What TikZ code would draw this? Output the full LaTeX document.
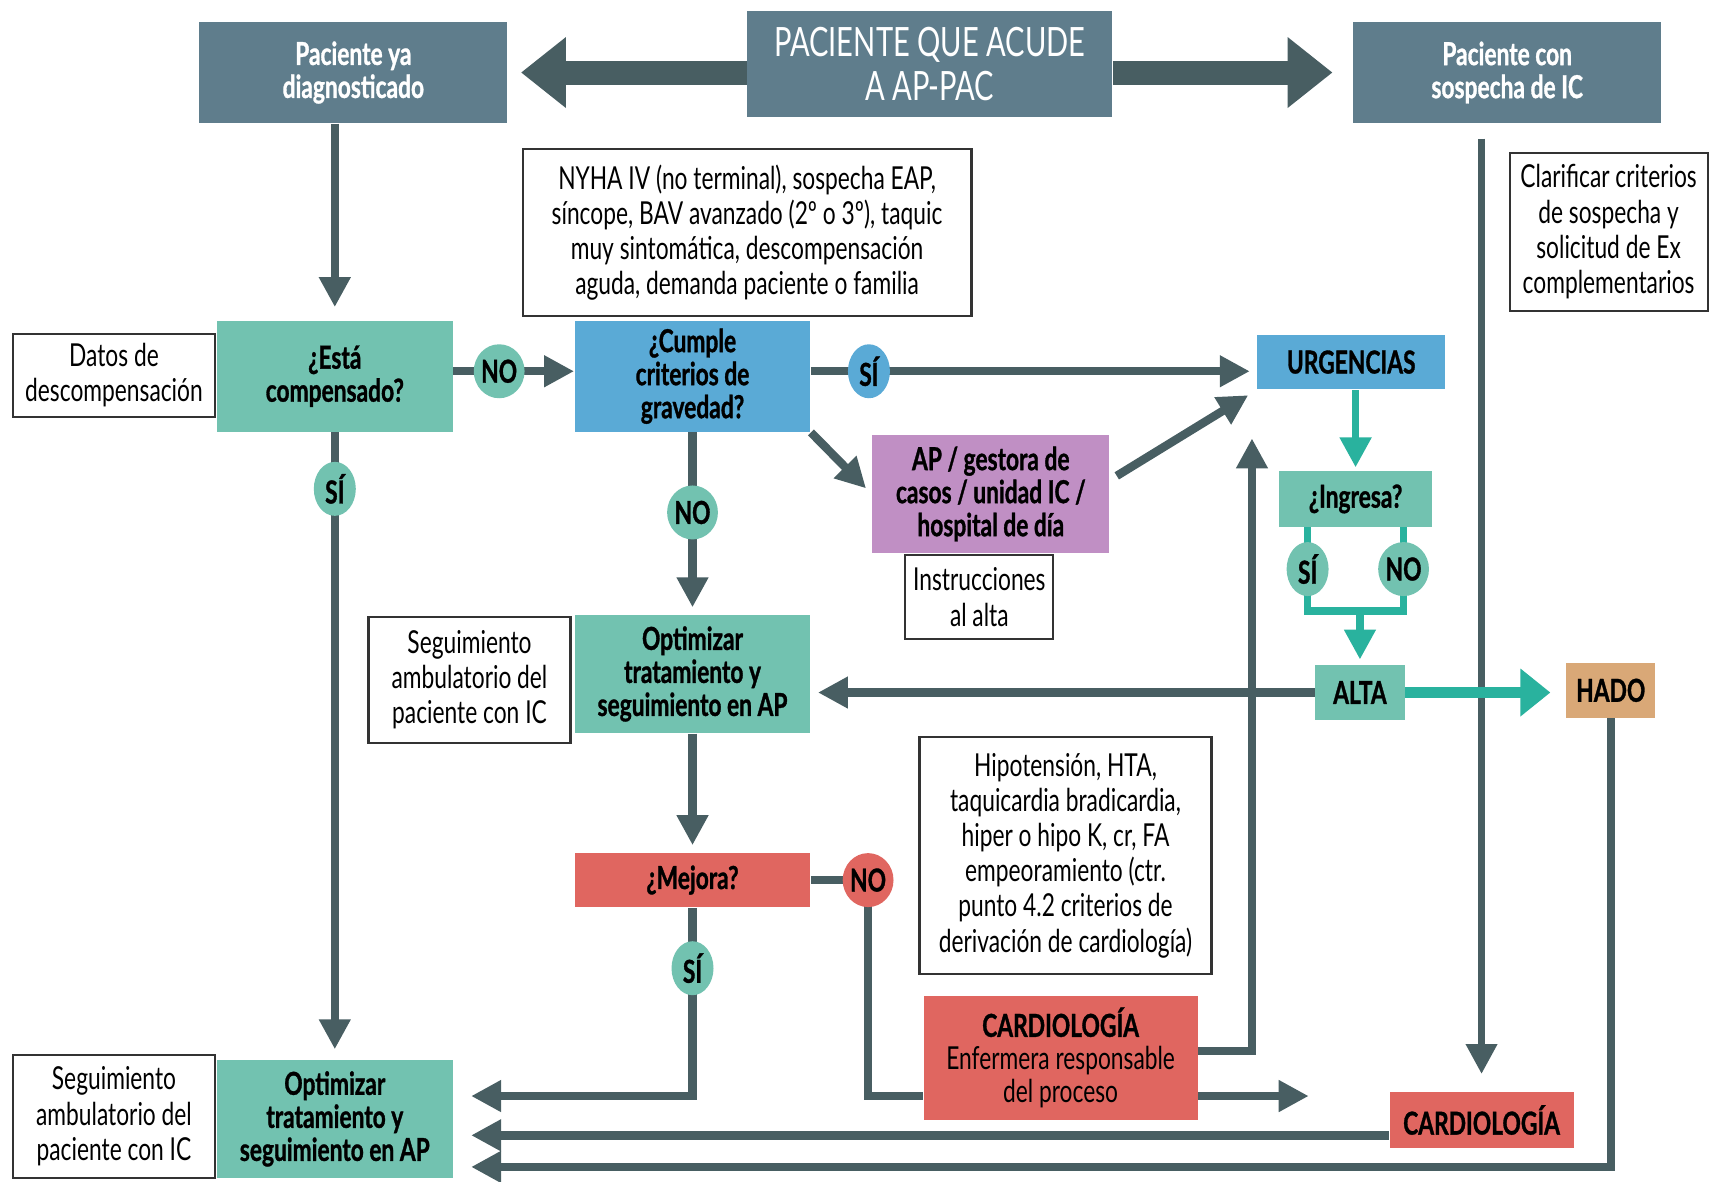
\documentclass[tikz,border=0pt]{standalone}
\usepackage{fontspec}
\setmainfont{Lato}[FakeStretch=0.72, BoldFeatures={FakeBold=1}]
\usetikzlibrary{positioning,shapes,arrows.meta}
\definecolor{slate}{HTML}{5F7D8C}
\definecolor{darkline}{HTML}{485E62}
\definecolor{tealbox}{HTML}{72C2B0}
\definecolor{tealline}{HTML}{29B29E}
\definecolor{bluebox}{HTML}{5AAAD6}
\definecolor{purplebox}{HTML}{C08FC4}
\definecolor{redbox}{HTML}{E06660}
\definecolor{orangebox}{HTML}{D9A877}

\begin{document}
\begin{tikzpicture}
        [x=0.010906cm, y=-0.010906cm,
        every node/.style={align=center, inner sep=1pt},
        box/.style={rectangle, font=\bfseries\fontsize{9}{9.4}\selectfont},
        head/.style={box, fill=slate, text=white,
        minimum width=3.08cm, minimum height=1.01cm},
        note/.style={rectangle, draw=black!80, semithick, fill=white,
        font=\fontsize{9}{10}\selectfont},
        tag/.style={ellipse, fill=tealbox, minimum width=0.42cm,
        minimum height=0.54cm, inner sep=0pt, font=\bfseries\fontsize{9}{9}\selectfont},
        line/.style={draw=darkline, line width=2.4pt},
        flow/.style={line, -{Triangle[length=0.3cm, width=0.3cm]}},
        bigflow/.style={draw=darkline, line width=0.24cm,
        -{Triangle[length=0.45cm, width=0.68cm]}},
        tline/.style={draw=tealline, line width=2.2pt},
        tflow/.style={tline, -{Triangle[length=0.3cm, width=0.3cm]}}]
        \useasboundingbox (0,0) rectangle (1568,1083);

        \node[head] (diag) at (324,66.5) {Paciente ya\\diagnosticado};
        \node[head, minimum width=3.65cm, minimum height=1.06cm,
        font=\fontsize{11.5}{12.5}\selectfont] (acude) at (852.5,58.5)
            {PACIENTE QUE ACUDE\\A AP-PAC};
        \node[head] (sosp) at (1382,66.5) {Paciente con\\sospecha de IC};
        \node[note, minimum width=4.49cm, minimum height=1.67cm] (nyha) at (685,213.5)
            {NYHA IV (no terminal), sospecha EAP,\\síncope, BAV avanzado (2º o 3º), taquic\\muy sintomática, descompensación\\aguda, demanda paciente o familia};
        \node[note, minimum width=1.98cm, minimum height=1.58cm] (aclar) at (1475,212.5)
            {Clarificar criterios\\de sospecha y\\solicitud de Ex\\complementarios};
        \node[note, minimum width=2.02cm, minimum height=0.83cm] (datos) at (104.5,344)
            {Datos de\\descompensación};
        \node[box, fill=tealbox, minimum width=2.356cm, minimum height=1.11cm] (compens)
            at (307,345) {¿Está\\compensado?};
        \node[box, fill=bluebox, minimum width=2.356cm, minimum height=1.11cm] (grave)
            at (635,345) {¿Cumple\\criterios de\\gravedad?};
        \node[box, fill=bluebox, minimum width=1.876cm, minimum height=0.545cm] (urg)
            at (1239,332) {URGENCIAS};
        \node[box, fill=purplebox, minimum width=2.37cm, minimum height=1.18cm] (gestora)
            at (908.5,453) {AP / gestora de\\casos / unidad IC /\\hospital de día};
        \node[note, minimum width=1.48cm, minimum height=0.84cm] (instr) at (898,547.5)
            {Instrucciones\\al alta};
        \node[box, fill=tealbox, minimum width=1.53cm, minimum height=0.556cm] (ingresa)
            at (1243,457.5) {¿Ingresa?};
        \node[box, fill=tealbox, minimum width=0.894cm, minimum height=0.545cm] (alta)
            at (1247,635) {ALTA};
        \node[box, fill=orangebox, minimum width=0.894cm, minimum height=0.545cm] (hado)
            at (1477,633) {HADO};
        \node[box, fill=tealbox, minimum width=2.356cm, minimum height=1.18cm] (optim)
            at (635,618) {Optimizar\\tratamiento y\\seguimiento en AP};
        \node[note, minimum width=2.02cm, minimum height=1.254cm] (segA) at (430.5,623.5)
            {Seguimiento\\ambulatorio del\\paciente con IC};
        \node[box, fill=redbox, minimum width=2.356cm, minimum height=0.545cm] (mejora)
            at (635,807) {¿Mejora?};
        \node[note, minimum width=2.92cm, minimum height=2.37cm] (hipo) at (977,784.5)
            {Hipotensión, HTA,\\taquicardia bradicardia,\\hiper o hipo K, cr, FA\\empeoramiento (ctr.\\punto 4.2 criterios de\\derivación de cardiología)};
        \node[box, fill=redbox, minimum width=2.74cm, minimum height=1.24cm] (cardA)
            at (972.5,970) {CARDIOLOGÍA\\{\mdseries Enfermera responsable}\\{\mdseries del proceso}};
        \node[box, fill=redbox, minimum width=1.84cm, minimum height=0.567cm] (cardB)
            at (1358.5,1027) {CARDIOLOGÍA};
        \node[box, fill=tealbox, minimum width=2.356cm, minimum height=1.18cm] (optimB)
            at (307,1026) {Optimizar\\tratamiento y\\seguimiento en AP};
        \node[note, minimum width=2.02cm, minimum height=1.23cm] (segB) at (104.5,1023.5)
            {Seguimiento\\ambulatorio del\\paciente con IC};

        \coordinate (cUp) at (1148,402);
        \coordinate (jl) at (1199,560);
        \coordinate (jr) at (1287,560);
        \coordinate (cNo) at (796,1005);
        \coordinate (cOut) at (1200,1005);
        \coordinate (tipS) at (432,1005);
        \coordinate (tipC) at (432,1041);
        \coordinate (tipH) at (432,1070);

        \draw[bigflow, shorten >=0.13cm] (acude.west |- diag.east) -- (diag.east);
        \draw[bigflow, shorten >=0.2cm] (acude.east |- sosp.west) -- (sosp.west);
        \draw[flow, shorten >=0.13cm] (compens.north |- diag.south) -- (compens.north);
        \draw[flow] ([yshift=0.05cm]compens.east) -- node[tag, pos=0.38] (noA) {NO}
            ([yshift=0.05cm]grave.west);
        \draw[flow, shorten >=0.07cm] ([yshift=0.05cm]grave.east) -- node[tag, fill=bluebox, pos=0.13]
            (siA) {SÍ} ([yshift=0.05cm]grave.east -| urg.west);
        \draw[flow, shorten >=0.08cm] (grave.south east) -- (gestora.west);
        \draw[flow, shorten <=0.08cm, shorten >=0.1cm] ([yshift=0.14cm]gestora.east) -- (urg.south west);
        \draw[flow] ([yshift=0.07cm]cardA.east) -| (cUp);
        \draw[flow, shorten >=0.07cm] (alta.west) -- (alta.west -| optim.east);
        \draw[flow, line width=2pt, shorten <=0.15cm, shorten >=0.17cm] (cardB.north |- sosp.south)
            -- (cardB.north);
        \draw[tflow, shorten >=0.03cm] (ingresa.north |- urg.south) -- (ingresa.north);
        \draw[tline] (ingresa.south -| jl) -- node[tag] (siC) {SÍ} (jl) -- (jr)
            -- node[tag] (noC) {NO} (ingresa.south -| jr);
        \draw[tflow, shorten >=0.05cm] (alta.north |- jl) -- (alta.north);
        \draw[tline, line width=3pt, -{Triangle[length=0.3cm, width=0.46cm]}, shorten >=0.15cm]
            (alta.east) -- (alta.east -| hado.west);
        \draw[flow, shorten >=0.1cm] (compens.south) -- node[tag, pos=0.09] (siB) {SÍ} (optimB.north);
        \draw[flow, shorten >=0.07cm] (grave.south) -- node[tag, pos=0.44] (noB) {NO} (optim.north);
        \draw[flow, shorten >=0.07cm] (optim.south) -- (mejora.north);
        \draw[line] (mejora.east) -| node[tag, fill=redbox] (noD) {NO} (cNo) -- (cardA.west |- cNo);
        \draw[flow] (cardA.east |- cNo) -- (cOut);
        \draw[flow] (mejora.south) -- node[tag, pos=0.32] (siD) {SÍ} (mejora.south |- tipS) -- (tipS);
        \draw[flow] (cardB.west |- tipC) -- (tipC);
        \draw[flow] (hado.south) |- (tipH);
\end{tikzpicture}
\end{document}
